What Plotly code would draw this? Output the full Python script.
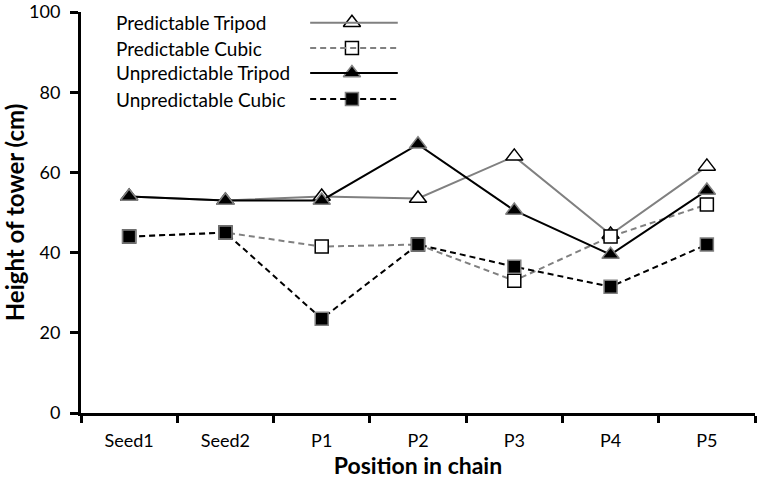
import plotly.graph_objects as go

categories = ["Seed1", "Seed2", "P1", "P2", "P3", "P4", "P5"]
pred_tripod = [54, 53, 54, 53.5, 64, 44.5, 61.5]
pred_cubic = [44, 45, 41.5, 42, 33, 44, 52]
unpred_tripod = [54, 53, 53, 67, 50.5, 39.5, 55.5]
unpred_cubic = [44, 45, 23.5, 42, 36.5, 31.5, 42]
legend_names = ["Predictable Tripod", "Predictable Cubic", "Unpredictable Tripod", "Unpredictable Cubic"]
y_ticks = [0, 20, 40, 60, 80, 100]

FONT = "Lato, 'Open Sans', sans-serif"

styles = [
    dict(line=dict(color="#808080", width=2), marker=dict(symbol="triangle-up", size=15, color="white", line=dict(color="black", width=1.5))),
    dict(line=dict(color="#808080", width=2, dash="6px,4px"), marker=dict(symbol="square", size=13, color="white", line=dict(color="black", width=1.5))),
    dict(line=dict(color="black", width=2), marker=dict(symbol="triangle-up", size=15, color="black", line=dict(color="#808080", width=1.5))),
    dict(line=dict(color="black", width=2, dash="6px,4px"), marker=dict(symbol="square", size=13, color="black", line=dict(color="#808080", width=1.5))),
]
series = [pred_tripod, pred_cubic, unpred_tripod, unpred_cubic]

fig = go.Figure()
for name, vals, st in zip(legend_names, series, styles):
    fig.add_trace(go.Scatter(x=categories, y=vals, mode="lines+markers", name=name,
                             line=st["line"], marker=st["marker"], showlegend=False))

# custom legend (text left, sample right), placed in paper coordinates
leg_y = [0.973, 0.910, 0.848, 0.783]
for name, ly, st in zip(legend_names, leg_y, styles):
    fig.add_shape(type="line", xref="paper", yref="paper", x0=0.340, x1=0.470, y0=ly, y1=ly,
                  line=st["line"])
    fig.add_trace(go.Scatter(x=[0.402], y=[ly], xaxis="x2", yaxis="y2", mode="markers",
                             marker=st["marker"], showlegend=False, hoverinfo="skip"))
    fig.add_annotation(xref="paper", yref="paper", x=0.049, y=ly, text=name, showarrow=False,
                       xanchor="left", yanchor="middle", font=dict(family=FONT, size=19, color="black"))

fig.update_layout(
    width=758, height=483,
    margin=dict(l=81, r=3, t=12, b=70),
    paper_bgcolor="white", plot_bgcolor="white",
    font=dict(family=FONT, size=18, color="black"),
    xaxis=dict(type="category", range=[-0.5, 6.5], tickson="boundaries", ticks="outside", ticklen=7,
               tickwidth=2.5, tickcolor="black", showline=True, linecolor="black", linewidth=3,
               showgrid=False, zeroline=False, tickfont=dict(family=FONT, size=18), automargin=False,
               ticklabelstandoff=9,
               title=dict(text="<b>Position in chain</b>", font=dict(family=FONT, size=23), standoff=9)),
    yaxis=dict(range=[0, 100], tickvals=y_ticks, ticks="outside", ticklen=8, tickwidth=2.5, tickcolor="black",
               showline=True, linecolor="black", linewidth=3, showgrid=False, zeroline=False,
               tickfont=dict(family=FONT, size=18), automargin=False, ticklabelstandoff=6,
               title=dict(text="<b>Height of tower (cm)</b>", font=dict(family=FONT, size=24), standoff=5)),
    xaxis2=dict(overlaying="x", range=[0, 1], visible=False, fixedrange=True),
    yaxis2=dict(overlaying="y", range=[0, 1], visible=False, fixedrange=True),
)

fig.write_html("out.html", config={"displayModeBar": False},
               post_script="document.body.style.margin='0';")
